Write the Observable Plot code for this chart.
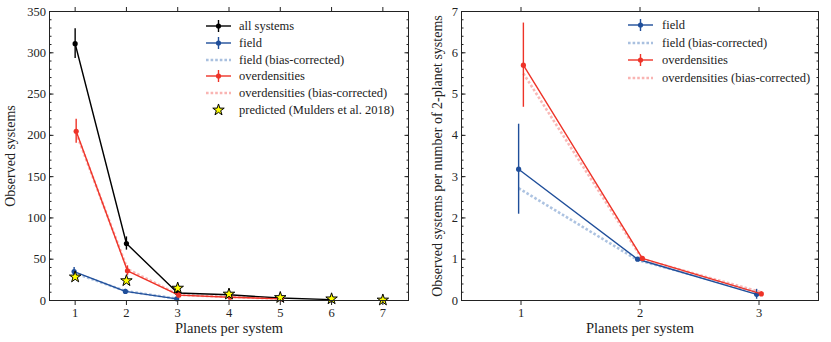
<!DOCTYPE html>
<html>
<head>
<meta charset="utf-8">
<script src="https://cdn.jsdelivr.net/npm/d3@7"></script>
<script src="https://cdn.jsdelivr.net/npm/@observablehq/plot@0.6"></script>
<style>
  body { margin: 0; background: #fff; }
  #wrap { position: relative; width: 831px; height: 342px; font-family: "Liberation Serif", "DejaVu Serif", serif; }
  .panel { position: absolute; top: 0; }
  .legend { position: absolute; font-family: "Liberation Serif", "DejaVu Serif", serif; font-size: 12.5px; color: #222; }
  .legend .row { position: absolute; left: 0; white-space: nowrap; height: 16px; }
  .legend svg { position: absolute; left: 0; top: 0; }
  .legend span { position: absolute; top: 0; line-height: 16px; }
</style>
</head>
<body>
<div id="wrap"></div>
<script>
// ---------- data (left panel: observed systems) ----------
const planets = [1, 2, 3, 4, 5, 6, 7];
const allSys = [311, 69, 9, 7, 3, 1];
const allErr = [18, 8, 3, 2.5, 1.7, 1];
const fieldN = [35, 11, 2];
const fieldErr = [5, 2.5, 1.4];
const fieldBias = [33.5, 11.5, 2.3];
const overN = [205, 36, 6.5, 4, 2];
const overErr = [14.5, 6, 2.5, 2, 1.4];
const overBias = [203, 38, 6.8, 4.3, 2.2];
const predicted = [28.5, 24, 15, 7.8, 3.6, 2, 0.6];

// ---------- data (right panel: per number of 2-planet systems) ----------
const ratioPlanets = [1, 2, 3];
const fieldRatio = [3.18, 1.0, 0.15];
const fieldRatioErr = [1.09, 0, 0.12];
const fieldRatioBias = [2.72, 0.98, 0.2];
const overRatio = [5.70, 1.02, 0.16];
const overRatioErr = [1.02, 0, 0.05];
const overRatioBias = [5.5, 1.0, 0.2];

const leftTicksX = [1, 2, 3, 4, 5, 6, 7];
const rightTicksX = [1, 2, 3];

const C = {
  all: "#000000",
  field: "#1f4e9a",
  fieldBias: "#a9c0df",
  over: "#ee3328",
  overBias: "#f9b4b2",
  star: "#ffff00"
};
const FONT = "'Liberation Serif', 'DejaVu Serif', serif";

function rows(vals, errs, off) {
  return vals.map((v, i) => ({x: planets[i] + off, y: v, e: errs ? errs[i] : 0}));
}

function frameMarks(yMajor, yMinor, xTicks, yLabel, ylabOff, ylabSize) {
  return [
    Plot.axisY({anchor: "left", ticks: yMinor, tickSize: -2.5, tickFormat: () => "", label: null, stroke: "#222"}),
    Plot.axisY({anchor: "right", ticks: yMinor, tickSize: -2.5, tickFormat: () => "", label: null, stroke: "#222"}),
    Plot.axisY({anchor: "right", ticks: yMajor, tickSize: -4.5, tickFormat: () => "", label: null, stroke: "#222"}),
    Plot.axisY({anchor: "left", ticks: yMajor, tickSize: -4.5, tickPadding: 8, tickFormat: d3.format("d"), label: null, stroke: "#222", fill: "#222", fontSize: 12.5, fontFamily: FONT}),
    Plot.axisX({anchor: "top", ticks: xTicks, tickSize: 5, tickFormat: () => "", label: null, stroke: "#222"}),
    Plot.axisX({anchor: "bottom", ticks: xTicks, tickSize: 5, tickPadding: 3, tickFormat: d3.format("d"), label: null, stroke: "#222", fill: "#222", fontSize: 12.5, fontFamily: FONT}),
    Plot.frame({stroke: "#222", strokeWidth: 1}),
    Plot.text(["Planets per system"], {frameAnchor: "bottom", dy: 28, fontSize: 14.5, fontFamily: FONT, fill: "#222", lineAnchor: "middle", textAnchor: "middle"}),
    Plot.text([yLabel], {frameAnchor: "left", dx: -ylabOff, rotate: -90, fontSize: ylabSize, fontFamily: FONT, fill: "#222", lineAnchor: "middle", textAnchor: "middle"})
  ];
}

function seriesMarks(data, color, withErr) {
  const m = [Plot.line(data, {x: "x", y: "y", stroke: color, strokeWidth: 1.4})];
  if (withErr) {
    m.push(Plot.ruleX(data.filter(d => d.e > 0), {x: "x", y1: d => d.y - d.e, y2: d => d.y + d.e, stroke: color, strokeWidth: 1.4}));
  }
  m.push(Plot.dot(data, {x: "x", y: "y", r: 2.6, fill: color}));
  return m;
}
function biasMarks(data, color) {
  return Plot.line(data, {x: "x", y: "y", stroke: color, strokeWidth: 2.6, strokeDasharray: "2.6,2", strokeLinecap: "butt", strokeOpacity: 0.95});
}

// ---------- left ----------
const Lall = rows(allSys, allErr, 0);
const Lfield = rows(fieldN, fieldErr, -0.02);
const LfieldB = rows(fieldBias, null, -0.02);
const Lover = rows(overN, overErr, 0.02);
const LoverB = rows(overBias, null, 0.02);
const Lpred = predicted.map((v, i) => ({x: planets[i], y: v}));

const left = Plot.plot({
  width: 415, height: 342,
  marginLeft: 49, marginRight: 7, marginTop: 11, marginBottom: 42,
  x: {domain: [0.5, 7.5]},
  y: {domain: [0, 350]},
  style: {fontFamily: FONT, background: "transparent"},
  marks: [
    biasMarks(LfieldB, C.fieldBias),
    biasMarks(LoverB, C.overBias),
    ...seriesMarks(Lall, C.all, true),
    ...seriesMarks(Lfield, C.field, true),
    ...seriesMarks(Lover, C.over, true),
    Plot.dot(Lpred, {x: "x", y: "y", symbol: "star", r: 3.6, fill: C.star, stroke: "#000", strokeWidth: 1}),
    ...frameMarks(d3.range(0, 351, 50), d3.range(0, 351, 10), leftTicksX, "Observed systems", 39, 14)
  ]
});

// ---------- right ----------
function rrows(vals, errs, off) {
  return vals.map((v, i) => ({x: ratioPlanets[i] + off, y: v, e: errs ? errs[i] : 0}));
}
const Rfield = rrows(fieldRatio, fieldRatioErr, -0.02);
const RfieldB = rrows(fieldRatioBias, null, -0.02);
const Rover = rrows(overRatio, overRatioErr, 0.02);
const RoverB = rrows(overRatioBias, null, 0.02);

const right = Plot.plot({
  width: 416, height: 342,
  marginLeft: 46, marginRight: 13, marginTop: 11, marginBottom: 42,
  x: {domain: [0.5, 3.5]},
  y: {domain: [0, 7]},
  style: {fontFamily: FONT, background: "transparent"},
  marks: [
    biasMarks(RfieldB, C.fieldBias),
    biasMarks(RoverB, C.overBias),
    ...seriesMarks(Rfield, C.field, true),
    ...seriesMarks(Rover, C.over, true),
    ...frameMarks(d3.range(0, 7.01, 1), d3.range(0, 7.01, 0.2), rightTicksX, "Observed systems per number of 2-planet systems", 24, 14)
  ]
});

const wrap = document.getElementById("wrap");
const pl = document.createElement("div"); pl.className = "panel"; pl.style.left = "0px"; pl.appendChild(left); wrap.appendChild(pl);
const pr = document.createElement("div"); pr.className = "panel"; pr.style.left = "415px"; pr.appendChild(right); wrap.appendChild(pr);

// ---------- legends ----------
const legLeft = [
  {label: "all systems", color: C.all, kind: "err"},
  {label: "field", color: C.field, kind: "err"},
  {label: "field (bias-corrected)", color: C.fieldBias, kind: "dot"},
  {label: "overdensities", color: C.over, kind: "err"},
  {label: "overdensities (bias-corrected)", color: C.overBias, kind: "dot"},
  {label: "predicted (Mulders et al. 2018)", color: C.star, kind: "star"}
];
const legRight = legLeft.slice(1, 5);

function swatch(kind, color) {
  const ns = "http://www.w3.org/2000/svg";
  const s = document.createElementNS(ns, "svg");
  s.setAttribute("width", 26); s.setAttribute("height", 16);
  if (kind === "err") {
    s.innerHTML = `<line x1="0" x2="25" y1="8" y2="8" stroke="${color}" stroke-width="1.4"/>` +
      `<line x1="12.5" x2="12.5" y1="2" y2="14" stroke="${color}" stroke-width="1.4"/>` +
      `<circle cx="12.5" cy="8" r="2.6" fill="${color}"/>`;
  } else if (kind === "dot") {
    s.innerHTML = `<line x1="0" x2="25" y1="8" y2="8" stroke="${color}" stroke-width="2.6" stroke-dasharray="2.6,2"/>`;
  } else {
    const p = d3.symbol(d3.symbolStar, Math.PI * 3.6 * 3.6)();
    s.innerHTML = `<path transform="translate(12.5,8)" d="${p}" fill="${color}" stroke="#000" stroke-width="1"/>`;
  }
  return s;
}
function makeLegend(items, left, top, step, textX) {
  const lg = document.createElement("div");
  lg.className = "legend"; lg.style.left = left + "px"; lg.style.top = top + "px";
  items.forEach((it, i) => {
    const r = document.createElement("div"); r.className = "row"; r.style.top = (i * step) + "px";
    r.appendChild(swatch(it.kind, it.color));
    const t = document.createElement("span"); t.textContent = it.label; t.style.left = textX + "px";
    r.appendChild(t);
    lg.appendChild(r);
  });
  wrap.appendChild(lg);
}
makeLegend(legLeft, 206, 18, 16.8, 33);
makeLegend(legRight, 628, 17, 17.7, 34);
</script>
</body>
</html>
